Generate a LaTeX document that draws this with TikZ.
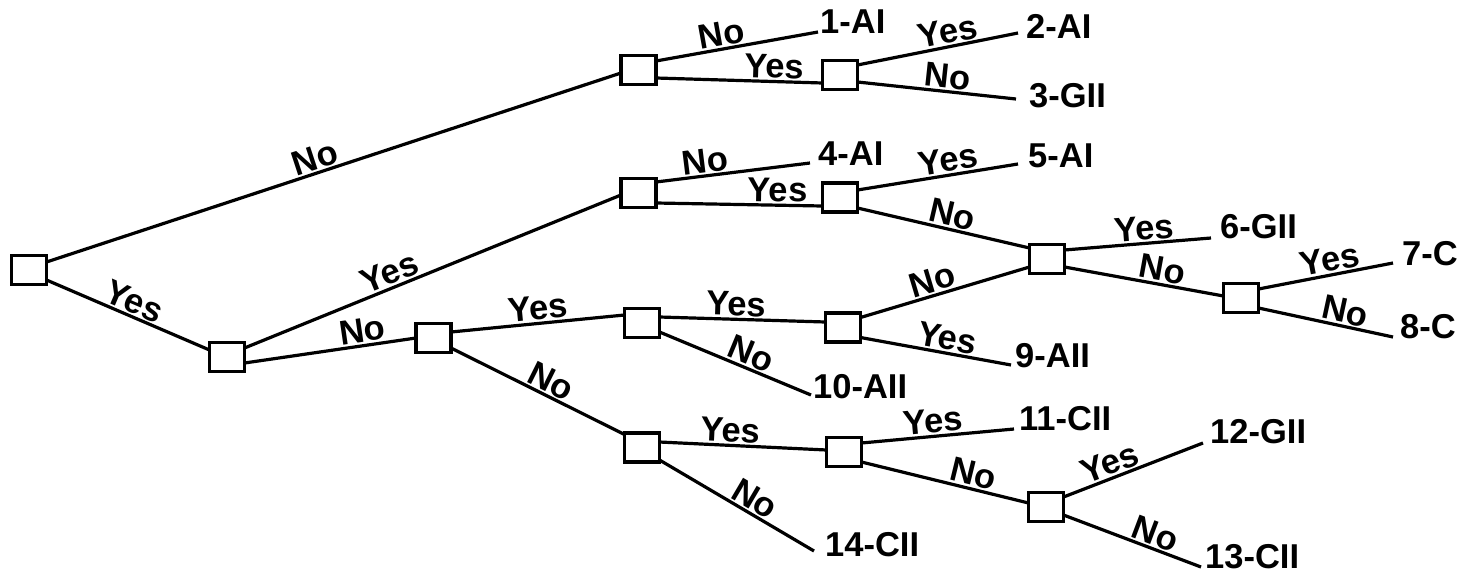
\documentclass[tikz,border=0pt]{standalone}
\usepackage{fontspec}
\setmainfont{Liberation Sans}
\usetikzlibrary{calc}
\begin{document}
\begin{tikzpicture}[x=1pt,y=-1pt,
  box/.style={draw, line width=3.2pt, minimum width=35pt, minimum height=29pt, inner sep=0pt, outer sep=0pt, fill=white},
  edge/.style={line width=3.2pt},
  lbl/.style={font=\fontsize{34.5}{34.5}\selectfont\bfseries, sloped, above, inner sep=1.5pt},
  leaf/.style={font=\fontsize{34.5}{34.5}\selectfont\bfseries, anchor=base west, inner sep=0pt},
]
\useasboundingbox (0,0) rectangle (1472,573);
% decision boxes
\node[box] (R) at (29,270) {};
\node[box] (A) at (638.5,70) {};
\node[box] (B) at (840,75) {};
\node[box] (C) at (227,357) {};
\node[box] (D) at (638.5,193) {};
\node[box] (E) at (840,197.5) {};
\node[box] (F) at (1047,259) {};
\node[box] (G) at (1241,298) {};
\node[box] (H) at (433.5,338) {};
\node[box] (I) at (642,323) {};
\node[box] (J) at (843,327.5) {};
\node[box] (K) at (642,447.5) {};
\node[box] (L) at (844,452) {};
\node[box] (M) at (1046,507) {};
% leaf line ends
\coordinate (e1) at (818,32);
\coordinate (e2) at (1018,33);
\coordinate (e3) at (1016,99);
\coordinate (e4) at (810,163);
\coordinate (e5) at (1018,164);
\coordinate (e6) at (1211,238);
\coordinate (e7) at (1393,263);
\coordinate (e8) at (1393,337);
\coordinate (e9) at (1011,365);
\coordinate (e10) at (811,395);
\coordinate (e11) at (1014,429);
\coordinate (e12) at (1203,443);
\coordinate (e13) at (1201,567);
\coordinate (e14) at (814,551);
% leaf texts
\node[leaf] (t1) at (820,33) {1-AI};
\node[leaf] (t2) at (1026,38) {2-AI};
\node[leaf] (t3) at (1029,107) {3-GII};
\node[leaf] (t4) at (818,165) {4-AI};
\node[leaf] (t5) at (1028,167) {5-AI};
\node[leaf] (t6) at (1220,238) {6-GII};
\node[leaf] (t7) at (1402,265) {7-C};
\node[leaf] (t8) at (1400,338) {8-C};
\node[leaf] (t9) at (1015,367) {9-AII};
\node[leaf] (t10) at (813,398) {10-AII};
\node[leaf] (t11) at (1019,430) {11-CII};
\node[leaf] (t12) at (1210,443) {12-GII};
\node[leaf] (t13) at (1205,568) {13-CII};
\node[leaf] (t14) at (825,556) {14-CII};
% connectors
\draw[edge] ($(R.east)+(0,-8)$) -- node[lbl,pos=.475]{No} ($(A.west)+(0,3)$);
\draw[edge] ($(R.east)+(0,10)$) -- node[lbl,pos=.5]{Yes} ($(C.west)+(0,-7)$);
\draw[edge] ($(A.east)+(0,-9)$) -- node[lbl,pos=.42]{No} (e1);
\draw[edge] ($(A.east)+(0,8)$) -- node[lbl,pos=.71]{Yes} ($(B.west)+(0,8)$);
\draw[edge] ($(B.east)+(0,-10)$) -- node[lbl,pos=.58]{Yes} (e2);
\draw[edge] ($(B.east)+(0,7)$) -- node[lbl,pos=.56]{No} (e3);
\draw[edge] ($(C.east)+(0,-9)$) -- node[lbl,pos=.40]{Yes} ($(D.west)+(0,2)$);
\draw[edge] ($(C.east)+(0,6)$) -- node[lbl,pos=.70]{No} (H.west);
\draw[edge] ($(D.east)+(0,-11)$) -- node[lbl,pos=.33]{No} (e4);
\draw[edge] ($(D.east)+(0,10)$) -- node[lbl,pos=.73]{Yes} ($(E.west)+(0,8.5)$);
\draw[edge] ($(E.east)+(0,-7.5)$) -- node[lbl,pos=.58]{Yes} (e5);
\draw[edge] ($(E.east)+(0,10.5)$) -- node[lbl,pos=.53]{No} ($(F.west)+(0,-11)$);
\draw[edge] ($(F.east)+(0,-9)$) -- node[lbl,pos=.55]{Yes} (e6);
\draw[edge] ($(F.east)+(0,8)$) -- node[lbl,pos=.6]{No} ($(G.west)+(0,-2)$);
\draw[edge] ($(G.east)+(0,-9)$) -- node[lbl,pos=.55]{Yes} (e7);
\draw[edge] ($(G.east)+(0,10)$) -- node[lbl,pos=.62]{No} (e8);
\draw[edge] ($(H.east)+(0,-6)$) -- node[lbl,pos=.51]{Yes} ($(I.west)+(0,-8)$);
\draw[edge] ($(H.east)+(0,10)$) -- node[lbl,pos=.54]{No} ($(K.west)+(0,-13)$);
\draw[edge] ($(I.east)+(0,-6)$) -- node[lbl,pos=.46]{Yes} ($(J.west)+(0,-5.5)$);
\draw[edge] ($(I.east)+(0,9)$) -- node[lbl,pos=.57]{No} (e10);
\draw[edge] ($(J.east)+(0,-10)$) -- node[lbl,pos=.45]{No} ($(F.west)+(0,8)$);
\draw[edge] ($(J.east)+(0,10)$) -- node[lbl,pos=.56]{Yes} (e9);
\draw[edge] ($(K.east)+(0,-5.5)$) -- node[lbl,pos=.42]{Yes} ($(L.west)+(0,-2)$);
\draw[edge] ($(K.east)+(0,12.5)$) -- node[lbl,pos=.57]{No} (e14);
\draw[edge] ($(L.east)+(0,-9)$) -- node[lbl,pos=.48]{Yes} (e11);
\draw[edge] ($(L.east)+(0,10)$) -- node[lbl,pos=.65]{No} ($(M.west)+(0,-4)$);
\draw[edge] ($(M.east)+(0,-10)$) -- node[lbl,pos=.37]{Yes} (e12);
\draw[edge] ($(M.east)+(0,8)$) -- node[lbl,pos=.63]{No} (e13);
\end{tikzpicture}
\end{document}
